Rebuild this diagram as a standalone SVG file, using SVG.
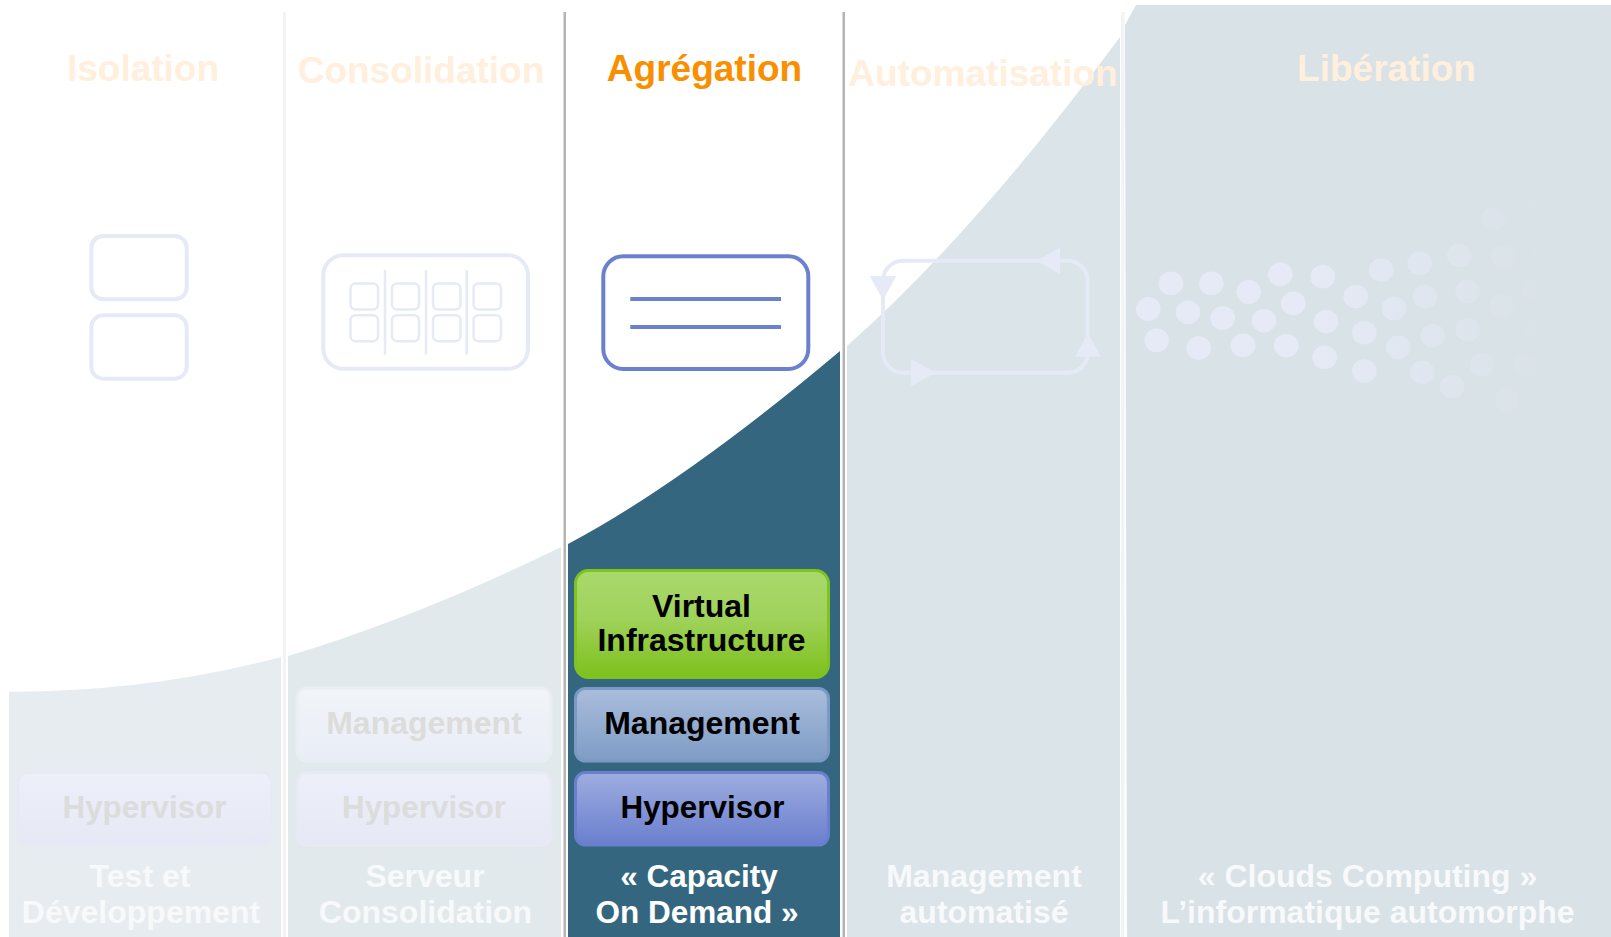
<svg xmlns="http://www.w3.org/2000/svg" width="1611" height="937" viewBox="0 0 1611 937">
<style>
text{font-family:"Liberation Sans",Arial,sans-serif;font-weight:700;text-anchor:middle}
.title{font-size:37px;fill:#ffefdc}
.cap{font-size:32px;fill:#f7f9fa}
.box{font-size:32px;fill:#000}
.hyp{font-size:31.400px;fill:#000}
.boxf{font-size:32px;fill:#dcdcdc}
.hypf{font-size:31.400px;fill:#dcdcdc}
.ico{fill:none;stroke:#e6eaf6;stroke-width:4}
.ico2{fill:none;stroke:#e6eaf6;stroke-width:2.500}
.head{fill:#e6eaf6}
.act{fill:none;stroke:#6b81cf;stroke-width:4}
.dl{fill:#f2f3f5}
.dd{fill:#b4b4b4}
</style>
<defs>
<linearGradient id="gV" x1="0" y1="0" x2="0" y2="1"><stop offset="0" stop-color="#aad96c"/><stop offset="0.45" stop-color="#9fd25a"/><stop offset="1" stop-color="#7dc01c"/></linearGradient>
<linearGradient id="gM" x1="0" y1="0" x2="0" y2="1"><stop offset="0" stop-color="#aabddc"/><stop offset="1" stop-color="#7e9cc5"/></linearGradient>
<linearGradient id="gH" x1="0" y1="0" x2="0" y2="1"><stop offset="0" stop-color="#9eade0"/><stop offset="1" stop-color="#6a7fce"/></linearGradient>
<linearGradient id="gMf" x1="0" y1="0" x2="0" y2="1"><stop offset="0" stop-color="#f1f4f8"/><stop offset="1" stop-color="#e9edf6"/></linearGradient>
<linearGradient id="gHf" x1="0" y1="0" x2="0" y2="1"><stop offset="0" stop-color="#edeff9"/><stop offset="1" stop-color="#e6e9f5"/></linearGradient>
<linearGradient id="dots" gradientUnits="userSpaceOnUse" x1="1305" y1="0" x2="1555" y2="0"><stop offset="0" stop-color="#e6eaf6"/><stop offset="1" stop-color="#d9e2e7"/></linearGradient>
</defs>
<rect width="1611" height="937" fill="#fff"/>

<g id="bands">
<path d="M9 691.700Q150 692 281 657V937H9Z" fill="#e7ecf0"/>
<path d="M288 656Q420 616 561 547V937H288Z" fill="#e2e9ec"/>
<path d="M568 544Q684 482.500 840 351V937H568Z" fill="#34677f"/>
<path d="M847 346Q974 234 1120 37V937H847Z" fill="#dbe4e9"/>
<path d="M1125 25L1136 5H1611V937H1127Z" fill="#d9e2e7"/>
</g>
<g id="dividers">
<rect class="dl" x="283" y="12" width="3" height="925"/>
<rect class="dd" x="563.500" y="12" width="2.500" height="925"/>
<rect class="dd" x="842.500" y="12" width="2.500" height="925"/>
<rect class="dl" x="1121" y="12" width="3.500" height="925"/>
</g>

<g id="col-isolation">
<text class="title" x="143" y="81">Isolation</text>
<rect class="ico" x="91.300" y="236" width="95.400" height="63.300" rx="12"/>
<rect class="ico" x="91.300" y="315.300" width="95.400" height="63.400" rx="12"/>
<rect x="18" y="772.500" width="254" height="73" rx="10" fill="url(#gHf)" stroke="#e7eaf4" stroke-width="3"/>
<text class="hypf" x="144.500" y="818">Hypervisor</text>
<text class="cap" x="140" y="887">Test et</text>
<text class="cap" x="141" y="923">Développement</text>
</g>

<g id="col-consolidation">
<text class="title" x="421" y="83">Consolidation</text>
<rect class="ico" x="323.300" y="255.300" width="204.700" height="113.400" rx="20"/>
<g class="ico2">
<rect x="350.500" y="283.500" width="27.500" height="26" rx="5"/><rect x="392" y="283.500" width="27" height="26" rx="5"/><rect x="433" y="283.500" width="27.500" height="26" rx="5"/><rect x="473.500" y="283.500" width="27.500" height="26" rx="5"/>
<rect x="350.500" y="315.200" width="27.500" height="26" rx="5"/><rect x="392" y="315.200" width="27" height="26" rx="5"/><rect x="433" y="315.200" width="27.500" height="26" rx="5"/><rect x="473.500" y="315.200" width="27.500" height="26" rx="5"/>
<path d="M385 270V354.700M426 270V354.700M466.700 270V354.700"/>
</g>
<rect x="297" y="688" width="254" height="73" rx="10" fill="url(#gMf)" stroke="#e9eef2" stroke-width="3"/>
<text class="boxf" x="424" y="734">Management</text>
<rect x="297" y="772.500" width="254" height="73" rx="10" fill="url(#gHf)" stroke="#e7eaf4" stroke-width="3"/>
<text class="hypf" x="424" y="818">Hypervisor</text>
<text class="cap" x="425" y="887">Serveur</text>
<text class="cap" x="425.500" y="923">Consolidation</text>
</g>

<g id="col-agregation">
<text class="title" style="fill:#f98f00" x="704.500" y="81">Agrégation</text>
<rect class="act" x="603.300" y="256.300" width="205" height="112.700" rx="20"/>
<path class="act" d="M630.300 299H781M630.300 327H781"/>
<rect x="575.500" y="570.500" width="253" height="107" rx="13" fill="url(#gV)" stroke="#7ec320" stroke-width="3"/>
<text class="box" x="701.500" y="617">Virtual</text>
<text class="box" x="701.500" y="651">Infrastructure</text>
<rect x="575.500" y="688.500" width="253" height="72.500" rx="10" fill="url(#gM)" stroke="#7a99c4" stroke-width="3"/>
<text class="box" x="702" y="734">Management</text>
<rect x="575.500" y="772.500" width="253" height="72.500" rx="10" fill="url(#gH)" stroke="#6a7fce" stroke-width="3"/>
<text class="hyp" x="702.500" y="818">Hypervisor</text>
<text class="cap" style="fill:#fff;font-size:31.500px" x="699" y="887">« Capacity</text>
<text class="cap" style="fill:#fff;font-size:31.500px" x="697" y="923">On Demand »</text>
</g>

<g id="col-automatisation">
<text class="title" x="983" y="86">Automatisation</text>
<rect class="ico" x="883" y="260.700" width="204.700" height="112" rx="20"/>
<path class="head" d="M1036.700 260.700L1060 247.300V274Z"/>
<path class="head" d="M869.700 276H896.300L883 300Z"/>
<path class="head" d="M911 359.300L936.700 372.700L911 386Z"/>
<path class="head" d="M1075 356.700H1101L1088 333.300Z"/>
<text class="cap" x="984" y="887">Management</text>
<text class="cap" x="984" y="923">automatisé</text>
</g>

<g id="col-liberation">
<text class="title" x="1386.500" y="81">Libération</text>
<g fill="url(#dots)">
<ellipse cx="1171" cy="283.300" rx="12.300" ry="11.800"/><ellipse cx="1211.300" cy="283.300" rx="12.300" ry="11.800"/><ellipse cx="1248.700" cy="292" rx="12.300" ry="12"/><ellipse cx="1280.300" cy="274.300" rx="12.300" ry="11.800"/><ellipse cx="1322.700" cy="276.700" rx="12.300" ry="11.800"/><ellipse cx="1381.300" cy="270" rx="12.300" ry="11.800"/><ellipse cx="1419.700" cy="263.300" rx="12.300" ry="11.800"/><ellipse cx="1459.300" cy="255.300" rx="12.300" ry="11.800"/><ellipse cx="1503.300" cy="257.300" rx="12.300" ry="11.800"/><ellipse cx="1494.300" cy="218.700" rx="12.300" ry="11.800"/><ellipse cx="1540" cy="204.300" rx="12.300" ry="11.800"/><ellipse cx="1545" cy="250" rx="12.300" ry="11.800"/>
<ellipse cx="1148.300" cy="309" rx="12.300" ry="12"/><ellipse cx="1188" cy="312.300" rx="12.300" ry="11.800"/><ellipse cx="1222.700" cy="318" rx="12.300" ry="12"/><ellipse cx="1264" cy="320.700" rx="12.300" ry="11.800"/><ellipse cx="1293.300" cy="303.300" rx="12.300" ry="11.800"/><ellipse cx="1326" cy="321.700" rx="12.300" ry="11.800"/><ellipse cx="1355.700" cy="296.700" rx="12.300" ry="11.800"/><ellipse cx="1394" cy="308.700" rx="12.300" ry="11.800"/><ellipse cx="1425" cy="296.700" rx="12.300" ry="11.800"/><ellipse cx="1467.700" cy="291.300" rx="12.300" ry="11.800"/><ellipse cx="1501.700" cy="305.700" rx="12.300" ry="11.800"/><ellipse cx="1534.300" cy="290" rx="12.300" ry="11.800"/>
<ellipse cx="1156.700" cy="340.300" rx="12.300" ry="11.800"/><ellipse cx="1198.700" cy="348" rx="12.300" ry="11.800"/><ellipse cx="1243" cy="345.300" rx="12.300" ry="11.800"/><ellipse cx="1286.300" cy="345.700" rx="12.300" ry="11.800"/><ellipse cx="1324.700" cy="357.300" rx="12.300" ry="11.800"/><ellipse cx="1364.300" cy="332.700" rx="12.300" ry="11.800"/><ellipse cx="1398.300" cy="347.300" rx="12.300" ry="11.800"/><ellipse cx="1432.700" cy="335.700" rx="12.300" ry="11.800"/><ellipse cx="1467.700" cy="329.700" rx="12.300" ry="11.800"/><ellipse cx="1536.700" cy="331.700" rx="12.300" ry="11.800"/>
<ellipse cx="1364.300" cy="371" rx="12.300" ry="11.800"/><ellipse cx="1422.300" cy="372.300" rx="12.300" ry="11.800"/><ellipse cx="1452.300" cy="386.700" rx="12.300" ry="11.800"/><ellipse cx="1482" cy="364.700" rx="12.300" ry="11.800"/><ellipse cx="1526" cy="365.300" rx="12.300" ry="11.800"/><ellipse cx="1564" cy="370" rx="12.300" ry="11.800"/><ellipse cx="1507.300" cy="400" rx="12.300" ry="11.800"/><ellipse cx="1550.700" cy="424.300" rx="12.300" ry="11.800"/>
</g>
<text class="cap" x="1367.500" y="887">« Clouds Computing »</text>
<text class="cap" x="1367.500" y="923">L’informatique automorphe</text>
</g>
<g id="connectors"/>
</svg>
